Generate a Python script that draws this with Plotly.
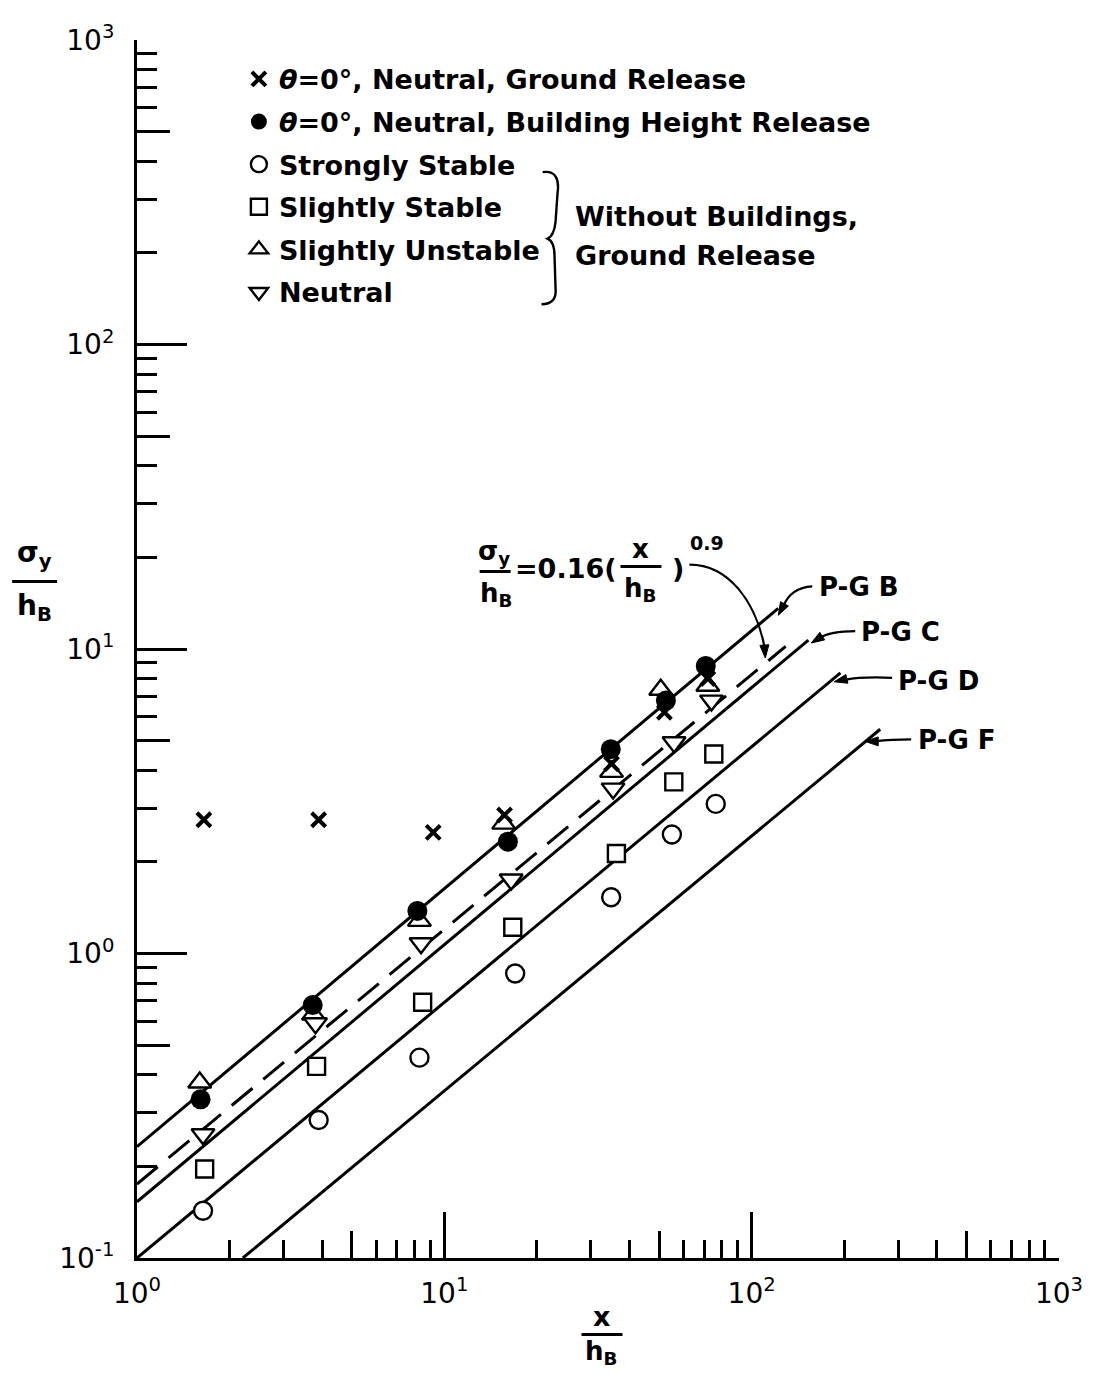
import math
import plotly.graph_objects as go

# ---------------- data ----------------
x_ground = [1.65, 3.9, 9.2, 15.7, 35.0, 52.0, 72.0]
y_ground = [2.75, 2.75, 2.5, 2.85, 4.2, 6.2, 8.0]

x_bldg = [1.61, 3.73, 8.17, 16.1, 34.8, 52.6, 70.9]
y_bldg = [0.332, 0.677, 1.38, 2.33, 4.69, 6.77, 8.8]

x_strong = [1.64, 3.9, 8.3, 17.0, 34.9, 55.0, 76.4]
y_strong = [0.143, 0.284, 0.455, 0.86, 1.53, 2.46, 3.1]

x_slstab = [1.66, 3.84, 8.5, 16.7, 36.3, 55.8, 75.3]
y_slstab = [0.196, 0.426, 0.692, 1.22, 2.13, 3.66, 4.52]

x_slunst = [1.60, 3.75, 8.3, 15.6, 35.0, 50.6, 72.0]
y_slunst = [0.377, 0.63, 1.28, 2.67, 3.95, 7.35, 7.57]

x_neut = [1.64, 3.81, 8.4, 16.5, 35.4, 55.9, 74.0]
y_neut = [0.255, 0.59, 1.08, 1.75, 3.48, 4.94, 6.77]

# Pasquill-Gifford curves and fitted line (end points)
pg_b_x, pg_b_y = [1, 122], [0.232, 13.6]
fit_x, fit_y = [1, 129], [0.175, 10.2]
pg_c_x, pg_c_y = [1, 153], [0.153, 10.7]
pg_d_x, pg_d_y = [1, 194.5], [0.1, 8.35]
pg_f_x, pg_f_y = [2.21, 262], [0.1, 5.45]

legend_names = [
    "<i>θ</i>=0°, Neutral, Ground Release",
    "<i>θ</i>=0°, Neutral, Building Height Release",
    "Strongly Stable",
    "Slightly Stable",
    "Slightly Unstable",
    "Neutral",
]
pg_labels = ["P-G B", "P-G C", "P-G D", "P-G F"]

x_major = [1, 10, 100, 1000]
x_major_text = ["10<sup>0</sup>", "10<sup>1</sup>", "10<sup>2</sup>", "10<sup>3</sup>"]
y_major = [0.1, 1, 10, 100, 1000]
y_major_text = ["10<sup>-1</sup>", "10<sup>0</sup>", "10<sup>1</sup>", "10<sup>2</sup>", "10<sup>3</sup>"]

# ---------------- layout geometry helpers ----------------
# the page body has an 8px margin, so the figure is offset by (8, 8)
OFF = 8
XL, XR, YT, YB = 137, 1060, 32, 1258          # plot area in page pixels
PW, PH = XR - XL, YB - YT
FIG_W, FIG_H = 1087, 1367
M_L, M_T = XL - OFF, YT - OFF
M_R, M_B = FIG_W - M_L - PW, FIG_H - M_T - PH


def fx(p):
    return (p - XL) / PW


def fy(p):
    return (YB - p) / PH


FONT = "DejaVu Sans"
BLACK = "black"

fig = go.Figure()

# lines
for xs, ys, dash in [(pg_b_x, pg_b_y, None), (fit_x, fit_y, "27px,14px"),
                     (pg_c_x, pg_c_y, None), (pg_d_x, pg_d_y, None),
                     (pg_f_x, pg_f_y, None)]:
    fig.add_trace(go.Scatter(x=xs, y=ys, mode="lines", showlegend=False,
                             hoverinfo="skip",
                             line=dict(color=BLACK, width=3, dash=dash)))

open_style = dict(color="white", line=dict(color=BLACK, width=2.4))

series = [
    (x_slunst, y_slunst, 4, "triangle-up", 20, open_style),
    (x_neut, y_neut, 5, "triangle-down", 20, open_style),
    (x_slstab, y_slstab, 3, "square", 17, open_style),
    (x_strong, y_strong, 2, "circle", 18, open_style),
    (x_ground, y_ground, 0, "x-thin", 14, dict(color=BLACK, line=dict(color=BLACK, width=4))),
    (x_bldg, y_bldg, 1, "circle", 20, dict(color=BLACK, line=dict(color=BLACK, width=0))),
]
for xs, ys, ni, sym, size, mk in series:
    fig.add_trace(go.Scatter(
        x=xs, y=ys, mode="markers", name=legend_names[ni],
        legendrank=ni + 1, legendgroup=f"g{ni}",
        marker=dict(symbol=sym, size=size, **mk)))

axis_common = dict(type="log", showgrid=False, zeroline=False,
                   ticks="inside", tickcolor=BLACK, tickwidth=3,
                   showline=True, linecolor=BLACK, linewidth=3,
                   tickfont=dict(family=FONT, size=28, color=BLACK))

x_minor = [m * d for d in [1, 10, 100] for m in [2, 3, 4, 6, 7, 8, 9]]
y_minor = [m * d for d in [0.1, 1, 10, 100] for m in [2, 3, 4, 6, 7, 8, 9]]

fig.update_layout(
    width=FIG_W, height=FIG_H,
    margin=dict(l=M_L, r=M_R, t=M_T, b=M_B),
    plot_bgcolor="white", paper_bgcolor="white",
    xaxis=dict(range=[0, 3], tickmode="array", tickvals=x_major,
               ticktext=x_major_text, ticklen=46, ticklabelstandoff=8,
               minor=dict(tickmode="array", tickvals=x_minor, ticks="inside",
                          ticklen=18, tickwidth=3, tickcolor=BLACK),
               **axis_common),
    yaxis=dict(range=[-1, 3], tickmode="array", tickvals=y_major,
               ticktext=y_major_text, ticklen=50, ticklabelstandoff=14,
               minor=dict(tickmode="array", tickvals=y_minor, ticks="inside",
                          ticklen=20, tickwidth=3, tickcolor=BLACK),
               **axis_common),
    xaxis2=dict(type="log", range=[0, 3], overlaying="x", anchor="y", side="bottom",
                tickmode="array", tickvals=[5, 50, 500], ticks="inside", ticklen=27,
                tickwidth=3, tickcolor=BLACK, showticklabels=False, showline=False,
                showgrid=False, zeroline=False),
    yaxis2=dict(type="log", range=[-1, 3], overlaying="y", anchor="x", side="left",
                tickmode="array", tickvals=[0.5, 5, 50, 500], ticks="inside", ticklen=33,
                tickwidth=3, tickcolor=BLACK, showticklabels=False, showline=False,
                showgrid=False, zeroline=False),
    showlegend=True,
    legend=dict(x=fx(239), y=fy(47), xanchor="left", yanchor="top",
                bgcolor="rgba(0,0,0,0)", borderwidth=0,
                tracegroupgap=4.5, traceorder="grouped",
                font=dict(family=FONT, size=27, color=BLACK, weight="bold")),
)

# invisible trace so the overlay axes (extra tick sets) are drawn
fig.add_trace(go.Scatter(x=[1], y=[1], xaxis="x2", yaxis="y2", mode="markers",
                         marker=dict(opacity=0), showlegend=False, hoverinfo="skip"))

shapes = []
annots = []


def text(xp, yp, t, size=27, anchor="center", weight="bold"):
    annots.append(dict(x=fx(xp), y=fy(yp), xref="paper", yref="paper", text=t,
                       showarrow=False, xanchor=anchor, yanchor="middle",
                       font=dict(family=FONT, size=size, color=BLACK, weight=weight)))


def hline(x0, x1, yp, w=3):
    shapes.append(dict(type="line", xref="paper", yref="paper",
                       x0=fx(x0), x1=fx(x1), y0=fy(yp), y1=fy(yp),
                       line=dict(color=BLACK, width=w)))


def curve(pts, w=2.2):
    (x0, y0), rest = pts[0], pts[1:]
    d = f"M {fx(x0)},{fy(y0)} C " + " ".join(f"{fx(a)},{fy(b)}" for a, b in rest)
    shapes.append(dict(type="path", xref="paper", yref="paper", path=d,
                       line=dict(color=BLACK, width=w)))


def arrowhead(xt, yt, xs, ys, length=13, half=4.5):
    # filled triangle, tip at (xt, yt), pointing away from (xs, ys)
    dx, dy = xt - xs, yt - ys
    n = math.hypot(dx, dy)
    ux, uy = dx / n, dy / n
    bx, by = xt - ux * length, yt - uy * length
    p1 = (bx - uy * half, by + ux * half)
    p2 = (bx + uy * half, by - ux * half)
    d = "M {},{} L {},{} L {},{} Z".format(fx(xt), fy(yt), fx(p1[0]), fy(p1[1]),
                                           fx(p2[0]), fy(p2[1]))
    shapes.append(dict(type="path", xref="paper", yref="paper", path=d,
                       fillcolor=BLACK, line=dict(color=BLACK, width=1)))


# axis titles as stacked fractions
text(34, 550, "σ<sub>y</sub>", size=28)
hline(12, 57, 577)
text(34, 603, "h<sub>B</sub>", size=28)

text(602, 1317, "x", size=27)
hline(582, 623, 1335)
text(602, 1353, "h<sub>B</sub>", size=26)

# brace and group label
shapes.append(dict(type="path", xref="paper", yref="paper",
                   path=("M {},{} C {},{} {},{} {},{} L {},{} C {},{} {},{} {},{} "
                         "C {},{} {},{} {},{} L {},{} C {},{} {},{} {},{}").format(
                       fx(543), fy(165), fx(556), fy(163), fx(560), fy(172), fx(558), fy(186),
                       fx(556), fy(215),
                       fx(555), fy(225), fx(552), fy(230), fx(548), fy(232),
                       fx(553), fy(234), fx(555), fy(240), fx(555), fy(250),
                       fx(556), fy(282),
                       fx(557), fy(293), fx(552), fy(298), fx(542), fy(298)),
                   line=dict(color=BLACK, width=2.4)))
text(573, 210, "Without Buildings,", anchor="left")
text(573, 249, "Ground Release", anchor="left")

# formula
text(494, 548, "σ<sub>y</sub>", size=26)
hline(480, 511, 567)
text(496, 590, "h<sub>B</sub>", size=26)
text(513, 564, "=0.16(", size=27, anchor="left")
text(641, 544, "x", size=26)
hline(621, 662, 562)
text(641, 585, "h<sub>B</sub>", size=26)
text(671, 564, ")", size=27, anchor="left")
text(689, 538, "0.9", size=19, anchor="left")
curve([(690, 560), (730, 560), (756, 598), (765, 642)])
arrowhead(766, 654, 765, 640)

# P-G labels with curved leaders
pg_pos = [(818, 583), (860, 628), (897, 677), (917, 737)]
for lab, (xp, yp) in zip(pg_labels, pg_pos):
    text(xp, yp, lab, size=26, anchor="left")
curve([(813, 582), (796, 583), (788, 592), (784, 602)])
arrowhead(779, 611, 786, 598)
curve([(856, 627), (840, 627), (828, 629), (820, 634)])
arrowhead(812, 639, 823, 632)
curve([(893, 674), (870, 673), (856, 674), (846, 676)])
arrowhead(835, 678, 848, 675)
curve([(912, 736), (895, 736), (884, 737), (876, 738)])
arrowhead(866, 738, 879, 738)

fig.update_layout(shapes=shapes, annotations=annots)
fig.write_html("out.html")
